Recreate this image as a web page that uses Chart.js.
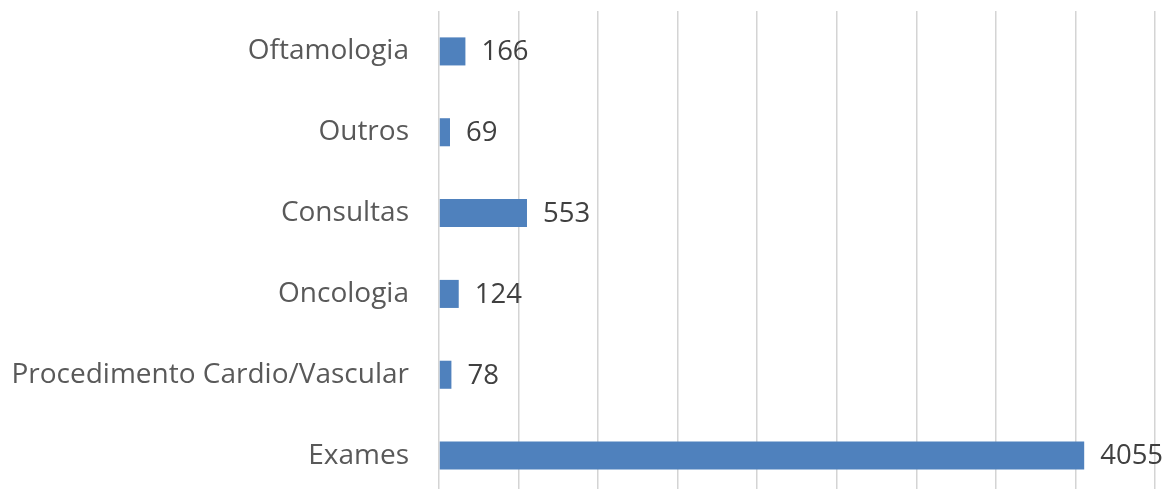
<!DOCTYPE html>
<html>
<head>
<meta charset="utf-8">
<script src="https://cdn.jsdelivr.net/npm/chart.js@4.4.1/dist/chart.umd.min.js"></script>
<style>
  html, body { margin: 0; padding: 0; background: #ffffff; overflow: hidden; }
  #wrap { width: 1167px; height: 496px; }
</style>
</head>
<body>
<div id="wrap"><canvas id="chart" width="1167" height="496"></canvas></div>
<script>
// Categories listed top to bottom
const categories = ['Oftamologia', 'Outros', 'Consultas', 'Oncologia', 'Procedimento Cardio/Vascular', 'Exames'];
const values = [166, 69, 553, 124, 78, 4055];
const axisMax = 4500;
const axisStep = 500;

// Prints each bar's value just past its end
const valueLabels = {
  id: 'valueLabels',
  afterDatasetsDraw(chart) {
    const ctx = chart.ctx;
    const meta = chart.getDatasetMeta(0);
    ctx.save();
    ctx.font = '27.5px "Open Sans"';
    ctx.fillStyle = '#404040';
    ctx.textAlign = 'left';
    ctx.textBaseline = 'middle';
    meta.data.forEach((bar, i) => {
      ctx.fillText(String(chart.data.datasets[0].data[i]), bar.x + 16, bar.y + 1);
    });
    ctx.restore();
  }
};

new Chart(document.getElementById('chart'), {
  type: 'bar',
  data: {
    labels: categories,
    datasets: [{
      data: values,
      backgroundColor: '#4f81bd',
      borderWidth: 0,
      barPercentage: 0.347,
      categoryPercentage: 1
    }]
  },
  options: {
    indexAxis: 'y',
    responsive: false,
    animation: false,
    layout: { padding: { top: 11, right: 12, left: 0, bottom: 0 } },
    plugins: { legend: { display: false }, tooltip: { enabled: false } },
    scales: {
      x: {
        min: 0,
        max: axisMax,
        ticks: { display: false, stepSize: axisStep },
        grid: { color: '#d4d4d4', lineWidth: 1.5, drawTicks: false },
        border: { display: false },
        afterFit(scale) {
          scale.height = 0;
          scale.paddingLeft = 0;
          scale.paddingRight = 0;
        }
      },
      y: {
        ticks: { color: '#595959', font: { family: '"Open Sans"', size: 28 }, padding: 30 },
        grid: { display: false, drawTicks: false },
        border: { display: false },
        afterFit(scale) {
          scale.width = 439;
          scale.paddingTop = 0;
          scale.paddingBottom = 0;
        }
      }
    }
  },
  plugins: [valueLabels]
});
</script>
</body>
</html>
